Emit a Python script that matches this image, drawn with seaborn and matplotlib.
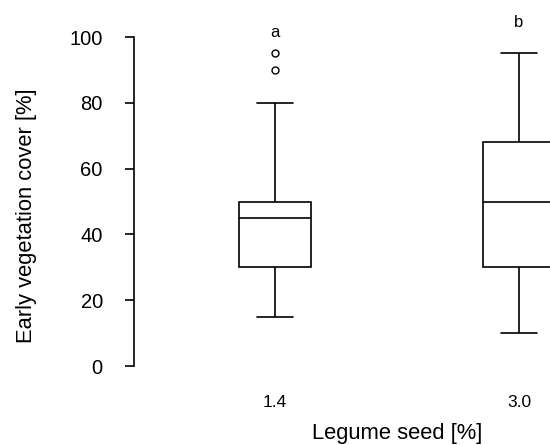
import matplotlib
matplotlib.use("Agg")
import matplotlib.pyplot as plt
import seaborn as sns
import pandas as pd

seed_levels = ["1.4", "3.0"]
cover_14 = [15, 20, 25, 30, 30, 30, 35, 40, 45, 45, 45, 45, 50, 50, 50, 50, 60, 70, 80, 90, 95]
cover_30 = [10, 15, 20, 25, 30, 30, 35, 40, 45, 50, 50, 55, 60, 60, 65, 68, 70, 75, 80, 90, 95]
sig_letters = ["a", "b"]
letter_y = [101.5, 104.3]

df = pd.DataFrame({
    "seed": [seed_levels[0]] * len(cover_14) + [seed_levels[1]] * len(cover_30),
    "cover": cover_14 + cover_30,
})

sns.set_style("white")
plt.rcParams["font.family"] = ["Liberation Sans", "DejaVu Sans"]
plt.rcParams["text.color"] = "black"
plt.rcParams["axes.labelcolor"] = "black"
plt.rcParams["xtick.color"] = "black"
plt.rcParams["ytick.color"] = "black"

fig = plt.figure(figsize=(5.5, 4.45), dpi=100)
ax = fig.add_axes([134 / 550, 65 / 445, 416 / 550, 380 / 445])

lw = 1.2
sns.boxplot(data=df, x="seed", y="cover", order=seed_levels, color="white",
            linecolor="black", linewidth=lw, width=0.295,
            flierprops=dict(marker="o", markerfacecolor="none",
                            markeredgecolor="black", markersize=5, markeredgewidth=1),
            ax=ax)

for i, (lab, yy) in enumerate(zip(sig_letters, letter_y)):
    ax.text(i, yy, lab, ha="center", va="center", fontsize=12)

ax.set_xlim(-0.578, 1.127)
ax.set_ylim(-4.255, 111.25)
ax.set_yticks([0, 20, 40, 60, 80, 100])
ax.tick_params(axis="y", length=6.5, width=lw, pad=16, labelsize=14.5, left=True)
ax.tick_params(axis="x", length=0, pad=11, labelsize=12.5)

for s in ["top", "right", "bottom"]:
    ax.spines[s].set_visible(False)
ax.spines["left"].set_bounds(0, 100)
ax.spines["left"].set_linewidth(lw)
ax.spines["left"].set_color("black")

ax.set_xlabel("Legume seed [%]", fontsize=15.8)
ax.set_ylabel("Early vegetation cover [%]", fontsize=15.8)
ax.xaxis.set_label_coords(0.632, -0.112)
ax.yaxis.set_label_coords(-0.233, 0.432)

fig.savefig("out.png", dpi=100)
